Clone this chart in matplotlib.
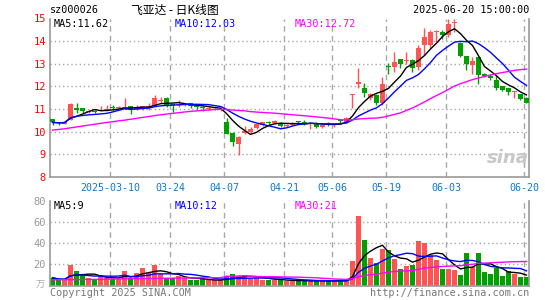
import matplotlib

matplotlib.use("Agg")
import matplotlib.pyplot as plt  # noqa: E402
import numpy as np  # noqa: E402
import pandas as pd  # noqa: E402

# trading calendar (SZSE holidays removed)
holidays = ["2025-04-04", "2025-05-01", "2025-05-02", "2025-05-05", "2025-06-02"]
tick_dates = ["2025-03-10", "2025-03-24", "2025-04-07", "2025-04-21",
              "2025-05-06", "2025-05-19", "2025-06-03", "2025-06-20"]

open_ = [10.55, 10.42, 10.36, 10.53, 11.05, 11.03, 10.86, 10.92, 10.92, 10.96,
         11.10, 11.04, 11.03, 11.13, 11.00, 11.07, 11.08, 11.15, 11.36, 11.50,
         11.22, 11.16, 11.20, 11.25, 11.14, 11.10, 11.00, 10.98, 10.97, 10.41,
         9.93, 9.46, 9.93, 10.00, 10.17, 10.30, 10.43, 10.38, 10.39, 10.25,
         10.30, 10.44, 10.40, 10.36, 10.33, 10.22, 10.36, 10.32, 10.50, 10.41,
         11.60, 12.10, 11.92, 11.50, 11.62, 11.25, 12.90, 12.87, 13.20, 13.13,
         13.16, 12.87, 13.83, 13.83, 14.40, 14.42, 14.27, 14.80, 13.93, 13.34,
         12.95, 13.30, 12.53, 12.46, 12.30, 12.00, 11.93, 11.75, 11.65, 11.50]
high = [10.55, 10.45, 10.45, 11.25, 11.28, 11.05, 10.96, 10.95, 11.12, 11.17,
        11.16, 11.12, 11.47, 11.15, 11.20, 11.15, 11.25, 11.62, 11.55, 11.52,
        11.25, 11.40, 11.26, 11.27, 11.16, 11.12, 11.08, 11.05, 11.00, 10.62,
        9.97, 9.81, 10.25, 10.20, 10.40, 10.45, 10.48, 10.50, 10.42, 10.35,
        10.42, 10.47, 10.52, 10.42, 10.41, 10.32, 10.41, 10.38, 10.55, 10.66,
        11.68, 12.80, 12.14, 11.72, 11.68, 12.43, 13.02, 13.54, 13.23, 13.54,
        13.23, 13.83, 14.57, 14.49, 14.49, 14.50, 15.00, 14.98, 13.98, 13.36,
        13.30, 13.30, 12.60, 12.53, 12.50, 12.02, 11.95, 11.80, 11.68, 11.55]
low = [10.31, 10.30, 10.32, 10.50, 10.81, 10.82, 10.83, 10.82, 10.90, 10.93,
       10.95, 11.00, 11.00, 10.77, 10.98, 10.98, 10.95, 11.12, 11.25, 11.10,
       10.88, 11.10, 11.15, 11.05, 11.00, 10.90, 10.97, 10.95, 10.93, 9.88,
       9.37, 8.97, 9.90, 9.95, 10.12, 10.25, 10.29, 10.33, 10.20, 10.20,
       10.28, 10.35, 10.30, 10.13, 10.15, 10.15, 10.25, 10.22, 10.40, 10.38,
       11.06, 11.92, 11.55, 11.42, 11.20, 11.20, 12.57, 12.64, 12.80, 12.98,
       12.64, 12.71, 13.39, 13.68, 13.98, 14.10, 14.20, 14.42, 13.30, 12.71,
       12.57, 12.10, 12.40, 12.28, 11.85, 11.80, 11.62, 11.50, 11.42, 11.25]
close = [10.41, 10.38, 10.42, 11.21, 10.98, 10.90, 10.92, 10.88, 10.97, 11.02,
         11.03, 11.10, 11.10, 10.99, 11.10, 11.12, 11.12, 11.47, 11.38, 11.18,
         11.18, 11.22, 11.24, 11.12, 11.08, 11.06, 11.05, 11.02, 10.99, 9.90,
         9.56, 9.78, 10.05, 10.12, 10.35, 10.42, 10.40, 10.46, 10.25, 10.30,
         10.38, 10.42, 10.38, 10.38, 10.22, 10.30, 10.34, 10.36, 10.47, 10.62,
         11.68, 12.20, 11.70, 11.65, 11.25, 12.11, 12.86, 13.09, 12.98, 13.16,
         12.80, 13.68, 14.20, 14.42, 14.45, 14.27, 14.74, 14.86, 13.34, 12.98,
         13.12, 12.50, 12.45, 12.36, 11.93, 11.85, 11.75, 11.80, 11.45, 11.28]
volume = [7.3, 4.8, 5.4, 19.0, 13.3, 8.6, 7.3, 5.4, 10.2, 7.3,
          6.3, 6.3, 13.3, 7.3, 11.7, 16.5, 11.7, 19.0, 10.5, 7.3,
          7.3, 8.6, 7.3, 5.4, 4.8, 6.3, 4.8, 4.8, 4.8, 8.6,
          10.5, 8.6, 9.5, 6.3, 7.3, 5.4, 5.4, 5.4, 5.4, 4.1,
          4.1, 4.1, 5.4, 4.1, 4.1, 4.1, 4.1, 4.8, 4.8, 4.8,
          23.2, 65.1, 42.9, 26.0, 21.3, 34.6, 33.3, 24.8, 15.2, 18.1,
          19.0, 42.2, 39.7, 28.6, 23.8, 15.2, 15.2, 14.3, 9.5, 30.2,
          17.5, 30.8, 12.7, 11.1, 16.8, 8.6, 13.7, 11.1, 7.9, 7.9]

# MA30 for the first 29 sessions needs earlier history
ma30_head = [10.07, 10.10, 10.13, 10.17, 10.21, 10.25, 10.29, 10.33, 10.37, 10.41,
             10.44, 10.48, 10.51, 10.55, 10.59, 10.63, 10.67, 10.71, 10.75, 10.78,
             10.81, 10.84, 10.87, 10.90, 10.92, 10.94, 10.96, 10.98, 10.99]
vol_ma30_head = [5.4, 5.4, 5.5, 5.5, 5.6, 5.6, 5.7, 5.7, 5.8, 6.0,
                 6.1, 6.2, 6.3, 6.3, 6.4, 6.5, 6.5, 6.6, 6.7, 6.8,
                 6.9, 7.0, 7.1, 7.2, 7.2, 7.3, 7.3, 7.3, 7.3]

title_code = "sz000026"
title_name = "飞亚达 - 日K线图"
title_time = "2025-06-20 15:00:00"
price_labels = ["MA5:11.62", "MA10:12.03", "MA30:12.72"]
vol_labels = ["MA5:9", "MA10:12", "MA30:21"]

RED = "#ff5454"
GREEN = "#00a000"
GRID = "#a8a8a8"
MA_COLORS = ["black", "#0000ff", "#ff00ff"]
MONO = "DejaVu Sans Mono"


def with_head(series, window, head):
    ma = series.rolling(window, min_periods=1).mean().to_numpy()
    ma[: len(head)] = head
    return ma


dates = pd.bdate_range("2025-02-24", "2025-06-20")
dates = dates[~dates.isin(pd.to_datetime(holidays))]
n = len(dates)
x = np.arange(n)
o, h, l, c = (np.asarray(a) for a in (open_, high, low, close))
up = c >= o
colors = np.where(up, RED, GREEN)

cs = pd.Series(c)
vs = pd.Series(volume)
price_ma = [cs.rolling(5, min_periods=1).mean(), cs.rolling(10, min_periods=1).mean(),
            with_head(cs, 30, ma30_head)]
vol_ma = [vs.rolling(5, min_periods=1).mean(), vs.rolling(10, min_periods=1).mean(),
          with_head(vs, 30, vol_ma30_head)]

W, H = 545, 300
fig = plt.figure(figsize=(W / 100, H / 100), dpi=100)


def px_axes(left, top, right, bottom):
    return fig.add_axes([left / W, 1 - bottom / H, (right - left) / W, (bottom - top) / H])


ax = px_axes(50, 18.5, 529, 177)
axv = px_axes(50, 200.7, 529, 285.5)

tick_pos = [int(np.where(dates == pd.Timestamp(d))[0][0]) for d in tick_dates]
tick_text = [tick_dates[0]] + [d[5:] for d in tick_dates[1:]]
xlim = (-0.42, n - 0.58)

for a in (ax, axv):
    a.set_xlim(*xlim)
    for s in ("left", "right", "bottom"):
        a.spines[s].set_color("#999999")
        a.spines[s].set_linewidth(1.2)
    a.spines["top"].set_visible(False)
    for p in tick_pos:
        a.axvline(p - 0.42, color=GRID, lw=1, dashes=(4, 3), zorder=0)
    a.tick_params(length=0)

# price panel
for yv in range(9, 15):
    ax.axhline(yv, color=GRID, lw=1, dashes=(1, 2), zorder=0)
ax.vlines(x, l, h, colors=colors, lw=1, zorder=2)
body = np.maximum(np.abs(c - o), 0.045)
ax.bar(x, body, bottom=np.minimum(o, c), width=0.8, color=colors, zorder=3)
for ma, col in zip(price_ma, MA_COLORS):
    ax.plot(x, ma, color=col, lw=1, zorder=4)
ax.set_ylim(8, 15)
ax.set_yticks(range(8, 16))
ax.set_yticklabels([str(v) for v in range(8, 16)], color="red", fontsize=7.5, family=MONO)
ax.tick_params(axis="y", pad=3)
ax.set_xticks([p - 0.42 for p in tick_pos])
ax.set_xticklabels(tick_text, color="#1177cc", fontsize=7.2, family=MONO)
ax.tick_params(axis="x", pad=4)
for lab, col, xp in zip(price_labels, MA_COLORS, (54, 175, 295)):
    fig.text(xp / W, 1 - 24 / H, lab, color=col, fontsize=7.3, family=MONO, va="center")
ax.text(0.955, 0.12, "sina", transform=ax.transAxes, fontsize=13, fontweight="bold",
        style="italic", color="#c8c8c8", ha="center", va="center", zorder=1)

# volume panel
for yv in (20, 40, 60):
    axv.axhline(yv, color=GRID, lw=1, dashes=(1, 2), zorder=0)
axv.bar(x, volume, width=0.8, color=colors, zorder=2)
for ma, col in zip(vol_ma, MA_COLORS):
    axv.plot(x, ma, color=col, lw=1, zorder=3)
axv.set_ylim(0, 80)
axv.set_yticks([20, 40, 60, 80])
axv.set_yticklabels(["20", "40", "60", "80"], color="#999999", fontsize=7.5, family=MONO)
axv.tick_params(axis="y", pad=3)
axv.set_xticks([])
for lab, col, xp in zip(vol_labels, MA_COLORS, (54, 175, 295)):
    fig.text(xp / W, 1 - 206 / H, lab, color=col, fontsize=7.3, family=MONO, va="center")
fig.text(36 / W, 1 - 285 / H, "万", color="#aaaaaa", fontsize=6.5,
         family=["Noto Sans CJK SC", "DejaVu Sans"], va="center")

# header / footer
fig.text(50 / W, 1 - 10 / H, title_code, fontsize=7.3, family=MONO, va="center")
fig.text(175 / W, 1 - 10 / H, title_name, fontsize=8.5,
         family=["Noto Sans CJK SC", "DejaVu Sans"], va="center", ha="center")
fig.text(529 / W, 1 - 10 / H, title_time, fontsize=7.3, family=MONO, va="center", ha="right")
fig.text(50 / W, 1 - 293 / H, "Copyright 2025 SINA.COM", color="#777777", fontsize=7.3,
         family=MONO, va="center")
fig.text(529 / W, 1 - 293 / H, "http://finance.sina.com.cn", color="#777777", fontsize=7.3,
         family=MONO, va="center", ha="right")

fig.savefig("out.png", dpi=100, facecolor="white")
